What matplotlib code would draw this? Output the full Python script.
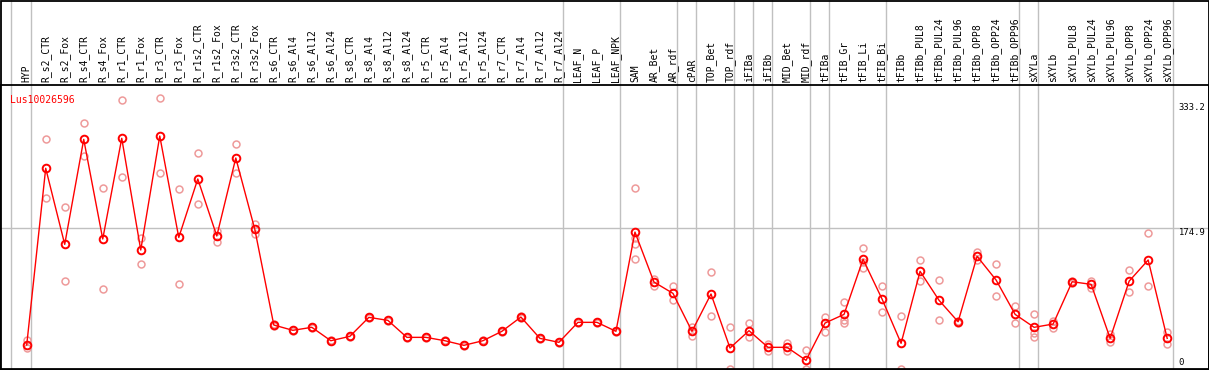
import matplotlib
matplotlib.use("Agg")
import matplotlib.pyplot as plt
import numpy as np

gene = "Lus10026596"

samples = ["HYP", "R_s2_CTR", "R_s2_Fox", "R_s4_CTR", "R_s4_Fox", "R_r1_CTR", "R_r1_Fox",
           "R_r3_CTR", "R_r3_Fox", "R_r1s2_CTR", "R_r1s2_Fox", "R_r3s2_CTR", "R_r3s2_Fox",
           "R_s6_CTR", "R_s6_Al4", "R_s6_Al12", "R_s6_Al24", "R_s8_CTR", "R_s8_Al4",
           "R_s8_Al12", "R_s8_Al24", "R_r5_CTR", "R_r5_Al4", "R_r5_Al12", "R_r5_Al24",
           "R_r7_CTR", "R_r7_Al4", "R_r7_Al12", "R_r7_Al24", "LEAF_N", "LEAF_P", "LEAF_NPK",
           "SAM", "AR_Bet", "AR_rdf", "cPAR", "TOP_Bet", "TOP_rdf", "iFIBa", "iFIBb",
           "MID_Bet", "MID_rdf", "tFIBa", "tFIB_Gr", "tFIB_Li", "tFIB_Bi", "tFIBb",
           "tFIBb_PUL8", "tFIBb_PUL24", "tFIBb_PUL96", "tFIBb_OPP8", "tFIBb_OPP24",
           "tFIBb_OPP96", "sXYLa", "sXYLb", "sXYLb_PUL8", "sXYLb_PUL24", "sXYLb_PUL96",
           "sXYLb_OPP8", "sXYLb_OPP24", "sXYLb_OPP96"]

means = [22.6, 253.3, 154, 291, 161, 292.4, 146.6, 295.4, 163, 239.3, 164.9, 266.7, 173.6,
         48.7, 41.8, 45.7, 28.2, 33.9, 58.7, 54.8, 32.6, 32.6, 28.2, 22.2, 28.2, 40.5, 59.1,
         31.3, 26.1, 52.2, 52.2, 40.5, 170, 104.8, 90, 40.5, 89.2, 18.7, 41.3, 19.6, 19.6,
         2.6, 51.3, 62.6, 134.5, 82.6, 24.8, 118.8, 80.9, 53, 138.4, 107.4, 62.6, 45.7, 50,
         105.2, 101.8, 31.3, 106, 133.6, 31.3]

replicates = [
    [29, 18.3], [291, 214], [202.3, 105.7], [312, 269], [227, 95.7], [342.4, 242],
    [162, 129], [344.6, 246.7], [225.8, 101.8], [272.8, 206.3], [171.8, 157.5],
    [284.6, 246.7], [180.2, 167.5], [49.5, 47.9], [42.6, 41], [46.5, 44.9], [29, 27.4],
    [34.7, 33.1], [59.5, 57.9], [55.6, 54], [33.4, 31.8], [33.4, 31.8], [29, 27.4],
    [23, 21.4], [29, 27.4], [41.3, 39.7], [59.9, 58.3], [32.1, 30.5], [26.9, 25.3],
    [53, 51.4], [53, 51.4], [41.3, 39.7], [227, 162, 154, 134.5], [108.7, 99.6],
    [99.2, 81.8], [45.7, 34.7], [117.5, 60.4], [45.7, -8.7], [51.3, 33.5], [23.5, 15.2],
    [25.2, 14.4], [15.7, -8.7], [58.7, 40], [78.3, 54.8, 50.9], [148.8, 131.4, 122.7],
    [99.2, 65.3], [60.4, -8.7], [133.6, 106], [107.4, 54.8], [54.5, 51.5], [144.4, 133.6],
    [128.3, 86.6], [73.5, 51.7], [63, 37.8, 32.6], [54.3, 44.4], [106.5, 104],
    [106, 96.6], [36.5, 26.9], [120, 91.4], [168.4, 99.6], [40, 23.5]]

group_lines = [-0.83, 0.2, 28.19, 31.19, 34.19, 35.19, 37.19, 38.19, 39.19, 41.19,
               42.19, 45.19, 52.19, 53.19, 60.3]

y_marks = [333.2, 174.9, 0]

W, H = 1209, 370
fig = plt.figure(figsize=(W / 100, H / 100), dpi=100)
fig.patch.set_facecolor("white")

xlim = (-1.405, 62.2)
mono = "DejaVu Sans Mono"

# header with sample names
hdr = fig.add_axes([0, 1 - 85 / H, 1, 85 / H])
hdr.set_xlim(*xlim)
hdr.set_ylim(0, 85)
hdr.axis("off")
for i, s in enumerate(samples):
    hdr.text(i, 2.5, s, rotation=90, ha="center", va="bottom", fontsize=7,
             family=mono, color="black")
for gx in group_lines:
    hdr.axvline(gx, color="#c0c0c0", lw=1)

# main plot area
ax = fig.add_axes([0, 1 / H, 1, 284 / H])
ax.set_xlim(*xlim)
ax.set_ylim(-8.7, 362)
ax.set_xticks([])
ax.set_yticks([])
for sp in ax.spines.values():
    sp.set_color("black")
    sp.set_linewidth(1.3)

for gx in group_lines:
    ax.axvline(gx, color="#c0c0c0", lw=1, zorder=1)
ax.axhline(y_marks[1], color="#c0c0c0", lw=1, zorder=1)

x = np.arange(len(samples))
for i, reps in enumerate(replicates):
    ax.plot([i] * len(reps), reps, "o", ms=5, mfc="none", mec="#ee9a9a", mew=1.1,
            zorder=2, clip_on=True)
ax.plot(x, means, "-", color="red", lw=1, zorder=3)
ax.plot(x, means, "o", ms=5.5, mfc="none", mec="red", mew=1.4, zorder=4)

ax.text(-0.9, 343, gene, color="red", fontsize=7, family=mono, ha="left", va="center")
for v, dy in zip(y_marks, [0, -6, 0]):
    ax.text(60.6, v + dy, f"{v}", fontsize=6.4, family=mono, ha="left", va="center")

# outer frame
fig.add_artist(plt.Rectangle((0.5 / W, 0.5 / H), 1 - 1 / W, 1 - 1 / H, transform=fig.transFigure,
                             fill=False, ec="black", lw=1.3))

fig.savefig("out.png", dpi=100)
